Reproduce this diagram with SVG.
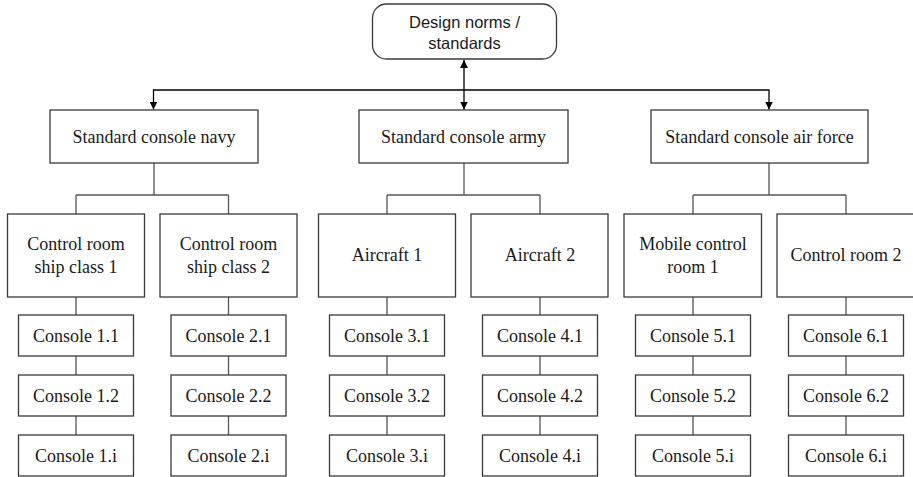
<svg xmlns="http://www.w3.org/2000/svg" width="913" height="477" viewBox="0 0 913 477">
<style>
.box{fill:#fff;stroke:#3a3a3a;stroke-width:1.3}
.t{font-family:"Liberation Serif","Times New Roman",serif;font-size:18px;fill:#1a1a1a;text-anchor:middle}
.ts{font-family:"Liberation Sans",Arial,sans-serif;font-size:16.5px;fill:#1a1a1a;text-anchor:middle}
.ln{fill:none;stroke:#555;stroke-width:1.3}
.ar{fill:none;stroke:#000;stroke-width:1.3}
</style>
<defs>
<marker id="ah" viewBox="0 0 10 10" refX="10" refY="5" markerWidth="8" markerHeight="8" markerUnits="userSpaceOnUse" orient="auto-start-reverse">
<path d="M0,0 L10,5 L0,10 z" fill="#000"/>
</marker>
</defs>
<rect width="913" height="477" fill="#fff"/>
<g id="connectors">
<line class="ar" x1="464" y1="60" x2="464" y2="109.5" marker-start="url(#ah)" marker-end="url(#ah)"/>
<polyline class="ar" points="464,90 153.5,90 153.5,109.5" marker-end="url(#ah)"/>
<polyline class="ar" points="464,90 769,90 769,109.5" marker-end="url(#ah)"/>
<path class="ln" d="M154,163 V195 M76,195 H228.5 M76,195 V214 M228.5,195 V214"/>
<path class="ln" d="M464,163 V195 M387,195 H540 M387,195 V214 M540,195 V214"/>
<path class="ln" d="M769,163 V195 M693,195 H846 M693,195 V214 M846,195 V214"/>
<path class="ln" d="M76,297 V315 M76,356 V375 M76,416 V435"/>
<path class="ln" d="M228.5,297 V315 M228.5,356 V375 M228.5,416 V435"/>
<path class="ln" d="M387,297 V315 M387,356 V375 M387,416 V435"/>
<path class="ln" d="M540,297 V315 M540,356 V375 M540,416 V435"/>
<path class="ln" d="M693,297 V315 M693,356 V375 M693,416 V435"/>
<path class="ln" d="M846,297 V315 M846,356 V375 M846,416 V435"/>
</g>
<g id="design-norms">
<rect class="box" x="372.5" y="4" width="184" height="55" rx="14"/>
<text class="ts" x="464.5" y="28">Design norms /</text>
<text class="ts" x="464.5" y="49">standards</text>
</g>
<g id="navy"><rect class="box" x="50" y="110" width="208" height="53"/><text class="t" x="154" y="143">Standard console navy</text></g>
<g id="army"><rect class="box" x="359" y="110" width="209" height="53"/><text class="t" x="463.5" y="143">Standard console army</text></g>
<g id="airforce"><rect class="box" x="651" y="110" width="217" height="53"/><text class="t" x="759.5" y="143">Standard console air force</text></g>

<g id="ship1"><rect class="box" x="7.5" y="214" width="137" height="83"/><text class="t" x="76" y="250">Control room</text><text class="t" x="76" y="273">ship class 1</text></g>
<g id="ship2"><rect class="box" x="160" y="214" width="137" height="83"/><text class="t" x="228.5" y="250">Control room</text><text class="t" x="228.5" y="273">ship class 2</text></g>
<g id="aircraft1"><rect class="box" x="318.5" y="214" width="137" height="83"/><text class="t" x="387" y="261">Aircraft 1</text></g>
<g id="aircraft2"><rect class="box" x="471" y="214" width="137" height="83"/><text class="t" x="540" y="261">Aircraft 2</text></g>
<g id="mobile1"><rect class="box" x="624" y="214" width="137.5" height="83"/><text class="t" x="693" y="250">Mobile control</text><text class="t" x="693" y="273">room 1</text></g>
<g id="room2"><rect class="box" x="777" y="214" width="137" height="83"/><text class="t" x="846" y="261">Control room 2</text></g>

<g id="c11"><rect class="box" x="18.5" y="315" width="115" height="41"/><text class="t" x="76" y="342">Console 1.1</text></g>
<g id="c12"><rect class="box" x="18.5" y="375" width="115" height="41"/><text class="t" x="76" y="402">Console 1.2</text></g>
<g id="c1i"><rect class="box" x="18.5" y="435" width="115" height="41"/><text class="t" x="76" y="462">Console 1.i</text></g>
<g id="c21"><rect class="box" x="171" y="315" width="115" height="41"/><text class="t" x="228.5" y="342">Console 2.1</text></g>
<g id="c22"><rect class="box" x="171" y="375" width="115" height="41"/><text class="t" x="228.5" y="402">Console 2.2</text></g>
<g id="c2i"><rect class="box" x="171" y="435" width="115" height="41"/><text class="t" x="228.5" y="462">Console 2.i</text></g>
<g id="c31"><rect class="box" x="329.5" y="315" width="115" height="41"/><text class="t" x="387" y="342">Console 3.1</text></g>
<g id="c32"><rect class="box" x="329.5" y="375" width="115" height="41"/><text class="t" x="387" y="402">Console 3.2</text></g>
<g id="c3i"><rect class="box" x="329.5" y="435" width="115" height="41"/><text class="t" x="387" y="462">Console 3.i</text></g>
<g id="c41"><rect class="box" x="482.5" y="315" width="115" height="41"/><text class="t" x="540" y="342">Console 4.1</text></g>
<g id="c42"><rect class="box" x="482.5" y="375" width="115" height="41"/><text class="t" x="540" y="402">Console 4.2</text></g>
<g id="c4i"><rect class="box" x="482.5" y="435" width="115" height="41"/><text class="t" x="540" y="462">Console 4.i</text></g>
<g id="c51"><rect class="box" x="635.5" y="315" width="115" height="41"/><text class="t" x="693" y="342">Console 5.1</text></g>
<g id="c52"><rect class="box" x="635.5" y="375" width="115" height="41"/><text class="t" x="693" y="402">Console 5.2</text></g>
<g id="c5i"><rect class="box" x="635.5" y="435" width="115" height="41"/><text class="t" x="693" y="462">Console 5.i</text></g>
<g id="c61"><rect class="box" x="788.5" y="315" width="115" height="41"/><text class="t" x="846" y="342">Console 6.1</text></g>
<g id="c62"><rect class="box" x="788.5" y="375" width="115" height="41"/><text class="t" x="846" y="402">Console 6.2</text></g>
<g id="c6i"><rect class="box" x="788.5" y="435" width="115" height="41"/><text class="t" x="846" y="462">Console 6.i</text></g>
</svg>
